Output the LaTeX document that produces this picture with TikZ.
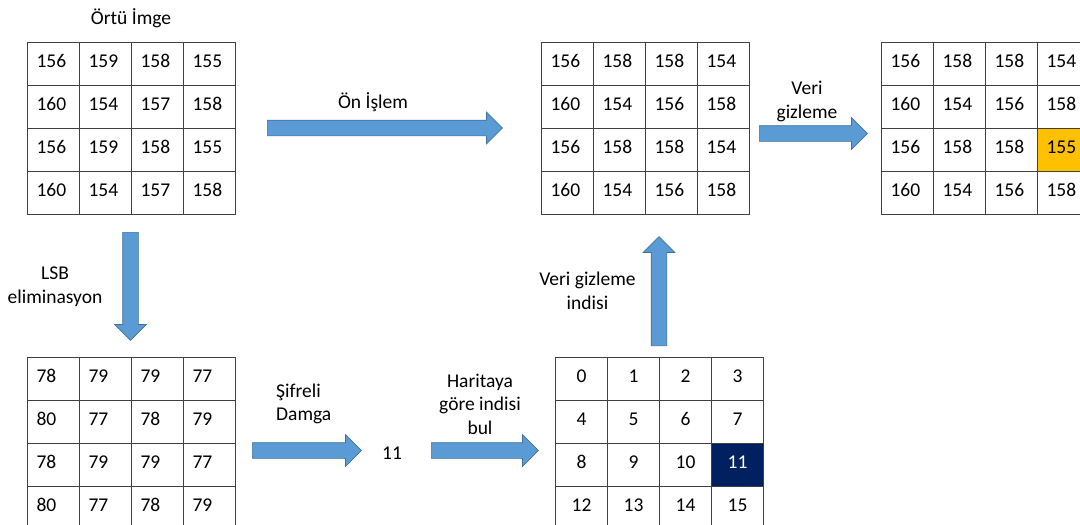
\documentclass[tikz,border=0pt]{standalone}
\usepackage{fontspec}
\setmainfont{Carlito}
\usetikzlibrary{shapes.arrows}

\definecolor{arrowblue}{HTML}{5B9BD5}
\definecolor{arrowedge}{HTML}{41719C}
\definecolor{hideorange}{HTML}{FFC000}
\definecolor{mapnavy}{HTML}{002060}
\definecolor{gridgray}{HTML}{404040}

\tikzset{
	cell/.style={draw=gridgray, line width=1.2pt, anchor=north west, minimum width=52pt, minimum height=43pt,
		inner xsep=9pt, inner ysep=0pt, text width=34pt, align=left, text height=12.6pt, text depth=5pt},
	mapcell/.style={cell, align=center},
	blockarrow/.style={single arrow, draw=arrowedge, fill=arrowblue, line width=0.7pt, inner xsep=0pt,
		inner ysep=7.5pt, single arrow head extend=8pt, single arrow tip angle=90, anchor=tail},
	lbl/.style={align=center}
}

\begin{document}
\begin{tikzpicture}[x=1pt, y=-1pt, font=\fontsize{19.5}{23.5}\selectfont]
	\useasboundingbox (0,0) rectangle (1080,525);
	\clip (0,0) rectangle (1080,525);
	% cover image
	\node[lbl] (coverTitle) at (131,18) {Örtü İmge};
	\foreach \v [count=\i from 0] in {156,159,158,155,160,154,157,158,156,159,158,155,160,154,157,158}
		\node[cell] (cov\i) at ({27+52*mod(\i,4)}, {42+43*div(\i,4)}) {\v};
	% preprocessed
	\foreach \v [count=\i from 0] in {156,158,158,154,160,154,156,158,156,158,158,154,160,154,156,158}
		\node[cell] (pre\i) at ({541+52*mod(\i,4)}, {42+43*div(\i,4)}) {\v};
	% stego, hidden pixel
	\fill[hideorange] (1037,128) rectangle (1089,171);
	\foreach \v [count=\i from 0] in {156,158,158,154,160,154,156,158,156,158,158,155,160,154,156,158}
		\node[cell] (stg\i) at ({881+52*mod(\i,4)}, {42+43*div(\i,4)}) {\v};
	% lsb removed
	\foreach \v [count=\i from 0] in {78,79,79,77,80,77,78,79,78,79,79,77,80,77,78,79}
		\node[cell] (lsb\i) at ({27+52*mod(\i,4)}, {357+43*div(\i,4)}) {\v};
	% index map
	\foreach \i in {0,...,10,12,13,14,15}
		\node[mapcell] (map\i) at ({555+52*mod(\i,4)}, {357+43*div(\i,4)}) {\i};
	\node[mapcell, fill=mapnavy, text=white] (map11) at (711,443) {11};
	% arrows
	\node[blockarrow, minimum height=235pt] (prepArrow) at (267,128) {};
	\node[blockarrow, minimum height=108pt] (hideArrow) at (759,133.5) {};
	\node[blockarrow, minimum height=108pt, rotate=-90] (lsbArrow) at (130.5,232) {};
	\node[blockarrow, minimum height=109pt, rotate=90] (idxArrow) at (659,346) {};
	\node[blockarrow, minimum height=109pt] (cipherArrow) at (252,450.5) {};
	\node[blockarrow, minimum height=107pt] (mapArrow) at (431,450.5) {};
	% labels
	\node[lbl] (prepLabel) at (373,102) {Ön İşlem};
	\node[lbl] (hideLabel) at (807,101.5) {Veri\\gizleme};
	\node[lbl] (lsbLabel) at (55,286.5) {LSB\\eliminasyon};
	\node[align=left, anchor=west, inner sep=0pt] (cipherLabel) at (276,404) {Şifreli\\Damga};
	\node (stamp) at (392,453) {11};
	\node[lbl] (mapLabel) at (480,404) {Haritaya\\göre indisi\\bul};
	\node[lbl] (idxLabel) at (587.5,291) {Veri gizleme\\indisi};
\end{tikzpicture}
\end{document}
